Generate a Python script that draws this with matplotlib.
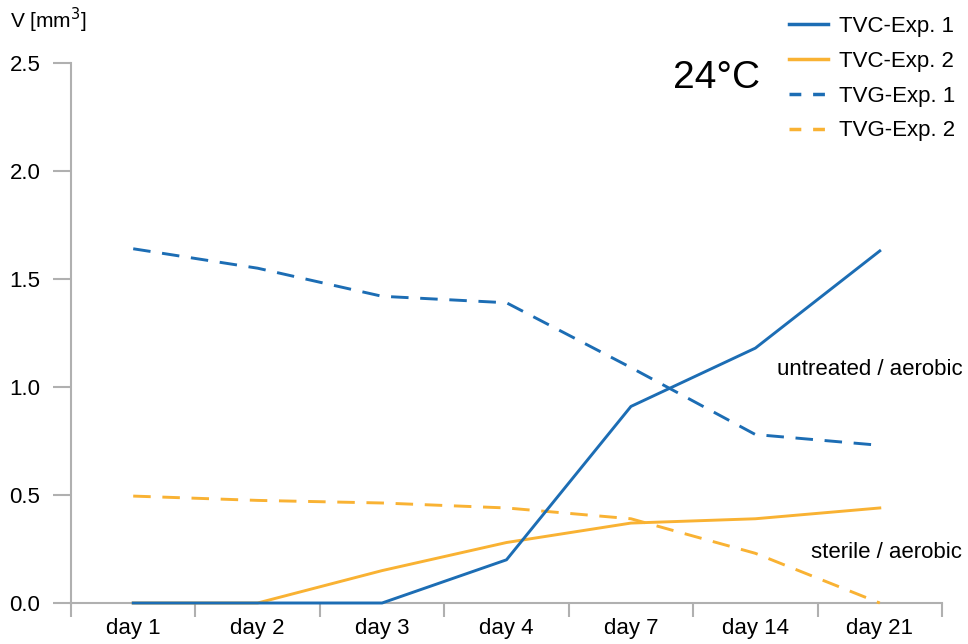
import matplotlib
matplotlib.use('Agg')
import matplotlib.pyplot as plt
from matplotlib.lines import Line2D
import numpy as np

# volume per sampling day, 24 C series
days = ['day 1', 'day 2', 'day 3', 'day 4', 'day 7', 'day 14', 'day 21']
tvc_exp1 = [0.0, 0.0, 0.0, 0.20, 0.91, 1.18, 1.63]
tvc_exp2 = [0.0, 0.0, 0.15, 0.28, 0.37, 0.39, 0.44]
tvg_exp1 = [1.64, 1.55, 1.42, 1.39, 1.09, 0.78, 0.73]
tvg_exp2 = [0.495, 0.475, 0.463, 0.44, 0.39, 0.23, 0.0]
y_ticks = [0.0, 0.5, 1.0, 1.5, 2.0, 2.5]

blue = '#1c6db4'
orange = '#f9b233'
grey = '#b0b0b0'

plt.rcParams['font.family'] = ['Liberation Sans', 'DejaVu Sans']

fig = plt.figure(figsize=(9.68, 6.44), dpi=100)
ax = fig.add_axes([71/968, 1 - 603/644, (942 - 71)/968, (603 - 63)/644])

x = np.arange(len(days))
lw = 2.1
dash = (6.0, 4.0)
# lines sit on top of the axis line where they touch zero
ax.plot(x, tvg_exp2, color=orange, lw=lw, dashes=dash, clip_on=False, zorder=3)
ax.plot(x, tvc_exp2, color=orange, lw=lw, clip_on=False, zorder=3)
ax.plot(x, tvg_exp1, color=blue, lw=lw, dashes=dash, clip_on=False, zorder=4)
ax.plot(x, tvc_exp1, color=blue, lw=lw, clip_on=False, zorder=4)

ax.set_xlim(-0.5, len(days) - 0.5)
ax.set_ylim(0, 2.5)

# category labels centred, ticks on the boundaries
ax.set_xticks(x)
ax.set_xticklabels(days)
ax.set_xticks(np.arange(-0.5, len(days)), minor=True)
ax.tick_params(axis='x', which='major', length=0, pad=11, labelsize=16)
ax.tick_params(axis='x', which='minor', length=10, width=1.5, color=grey)

ax.set_yticks(y_ticks)
ax.set_yticklabels(['%.1f' % v for v in y_ticks])
ax.tick_params(axis='y', length=13, width=1.5, color=grey, pad=9, labelsize=16)

for side in ['top', 'right']:
    ax.spines[side].set_visible(False)
for side in ['left', 'bottom']:
    ax.spines[side].set_color(grey)
    ax.spines[side].set_linewidth(1.5)
    ax.spines[side].set_zorder(1)

fig.text(10/968, 1 - 20/644, 'V [mm$^3$]', fontsize=15, va='center', ha='left')
fig.text(673/968, 1 - 78/644, '24°C', fontsize=28, va='center', ha='left')

ax.text(5.17, 1.08, 'untreated / aerobic', fontsize=16, va='center', ha='left')
ax.text(5.45, 0.236, 'sterile / aerobic', fontsize=16, va='center', ha='left')

# legend keys: two dashes per dashed key
leg_dash = (3.4, 3.4)
handles = [Line2D([], [], color=blue, lw=lw + 0.4),
           Line2D([], [], color=orange, lw=lw + 0.4),
           Line2D([], [], color=blue, lw=lw + 0.4, dashes=leg_dash),
           Line2D([], [], color=orange, lw=lw + 0.4, dashes=leg_dash)]
labels = ['TVC-Exp. 1', 'TVC-Exp. 2', 'TVG-Exp. 1', 'TVG-Exp. 2']
fig.legend(handles, labels,
           loc='upper left', bbox_to_anchor=(789/968, 1 - 16/644),
           frameon=False, fontsize=16, handlelength=1.75, handletextpad=0.5,
           labelspacing=0.62, borderpad=0, borderaxespad=0)

fig.savefig('out.png', dpi=100)
